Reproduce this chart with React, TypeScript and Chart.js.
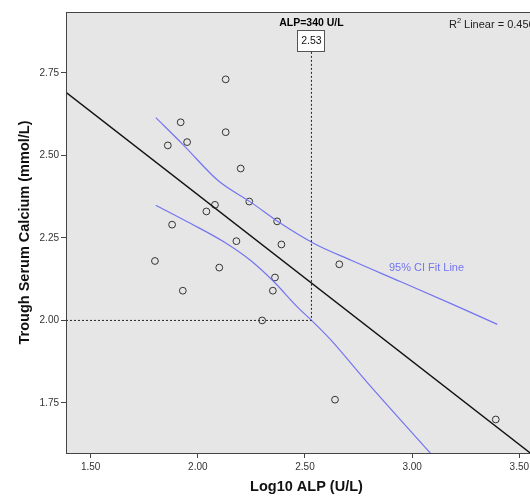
import React, { useEffect, useRef } from "react";
import { Chart, registerables } from "chart.js";

Chart.register(...registerables);

// Observed data: Log10 ALP (U/L) vs trough serum calcium (mmol/L)
const alpLog = [2.13, 1.92, 2.13, 1.86, 1.95, 2.20, 2.24, 2.08, 2.04, 2.37, 1.88, 2.18, 2.39, 1.80, 2.10, 2.36, 1.93, 2.35, 2.66, 2.30, 2.64, 3.39];
const calcium = [2.73, 2.60, 2.57, 2.53, 2.54, 2.46, 2.36, 2.35, 2.33, 2.30, 2.29, 2.24, 2.23, 2.18, 2.16, 2.13, 2.09, 2.09, 2.17, 2.00, 1.76, 1.70];

// Linear fit line (endpoints read at the plot edges)
const fitX = [1.385, 3.629];
const fitY = [2.691, 1.559];

// 95% CI of the fit (upper / lower curve)
const ciUpX = [1.804, 1.933, 2.097, 2.245, 2.386, 2.542, 2.715, 2.947, 3.181, 3.397];
const ciUpY = [2.614, 2.531, 2.422, 2.359, 2.294, 2.233, 2.182, 2.117, 2.051, 1.988];
const ciLoX = [1.804, 1.965, 2.121, 2.245, 2.355, 2.464, 2.534, 2.612, 2.792, 3.085];
const ciLoY = [2.349, 2.294, 2.238, 2.182, 2.117, 2.041, 1.998, 1.947, 1.811, 1.598];

// Reference guide (ALP = 340 U/L -> log10 = 2.53, calcium 2.00)
const guideX = [1.385, 2.53, 2.53];
const guideY = [2.0, 2.0, 2.816];

const xTicks = [1.5, 2.0, 2.5, 3.0, 3.5];
const yTicks = [1.75, 2.0, 2.25, 2.5, 2.75];

const X_MIN = 1.385, X_MAX = 3.629;
const Y_MIN = 1.5985, Y_MAX = 2.934;

const FONT = "'Liberation Sans', Arial, sans-serif";
const CI_COLOR = "#7474f2";

const pts = (xs: number[], ys: number[]) => xs.map((x, i) => ({ x, y: ys[i] }));

const framePlugin = {
  id: "frame",
  beforeDatasetsDraw(chart: any) {
    const { ctx, chartArea: a } = chart;
    ctx.save();
    ctx.fillStyle = "#e6e6e6";
    ctx.fillRect(a.left, a.top, a.right - a.left, a.bottom - a.top);
    ctx.restore();
  },
  afterDraw(chart: any) {
    const { ctx, chartArea: a, scales } = chart;
    ctx.save();
    ctx.strokeStyle = "#444";
    ctx.lineWidth = 1;
    ctx.strokeRect(a.left + 0.5, a.top + 0.5, a.right - a.left, a.bottom - a.top);

    const gx = scales.x.getPixelForValue(2.53);
    // ALP label
    ctx.fillStyle = "#000";
    ctx.font = `bold 10.5px ${FONT}`;
    ctx.textAlign = "center";
    ctx.textBaseline = "middle";
    ctx.fillText("ALP=340 U/L", gx, 23);
    // value box
    ctx.fillStyle = "#fff";
    ctx.fillRect(297, 30, 27, 21);
    ctx.strokeStyle = "#555";
    ctx.lineWidth = 1;
    ctx.strokeRect(297.5, 30.5, 27, 21);
    ctx.fillStyle = "#111";
    ctx.font = `10.5px ${FONT}`;
    ctx.fillText("2.53", gx, 41.5);

    // R² text
    ctx.textAlign = "left";
    ctx.fillStyle = "#222";
    ctx.font = `11px ${FONT}`;
    ctx.fillText("R", 449, 25);
    ctx.font = `7.5px ${FONT}`;
    ctx.fillText("2", 457, 20.5);
    ctx.font = `11px ${FONT}`;
    ctx.fillText(" Linear = 0.456", 461, 25);

    // CI label
    ctx.fillStyle = CI_COLOR;
    ctx.textAlign = "center";
    ctx.font = `11px ${FONT}`;
    ctx.fillText("95% CI Fit Line", 426.5, 268);
    ctx.restore();
  },
};

export default function App() {
  const ref = useRef<HTMLCanvasElement>(null);
  useEffect(() => {
    if (!ref.current) return;
    const chart = new Chart(ref.current, {
      type: "scatter",
      data: {
        datasets: [
          {
            label: "guide",
            data: pts(guideX, guideY),
            showLine: true,
            borderColor: "#222",
            borderWidth: 1,
            borderDash: [2, 2],
            pointRadius: 0,
            fill: false,
          },
          {
            label: "ciUp",
            data: pts(ciUpX, ciUpY),
            showLine: true,
            borderColor: CI_COLOR,
            borderWidth: 1.2,
            pointRadius: 0,
            cubicInterpolationMode: "monotone",
          },
          {
            label: "ciLo",
            data: pts(ciLoX, ciLoY),
            showLine: true,
            borderColor: CI_COLOR,
            borderWidth: 1.2,
            pointRadius: 0,
            cubicInterpolationMode: "monotone",
          },
          {
            label: "fit",
            data: pts(fitX, fitY),
            showLine: true,
            borderColor: "#111",
            borderWidth: 1.4,
            pointRadius: 0,
          },
          {
            label: "obs",
            data: pts(alpLog, calcium),
            pointRadius: 3.4,
            pointBorderWidth: 1,
            pointBorderColor: "#333",
            pointBackgroundColor: "rgba(0,0,0,0)",
          },
        ],
      },
      options: {
        animation: false,
        responsive: false,
        devicePixelRatio: 1,
        layout: { padding: { top: 12, right: 10, left: 0, bottom: 0 } },
        plugins: { legend: { display: false }, tooltip: { enabled: false } },
        scales: {
          x: {
            type: "linear",
            min: X_MIN,
            max: X_MAX,
            afterBuildTicks: (s: any) => {
              s.ticks = xTicks.map((v) => ({ value: v }));
            },
            afterFit: (s: any) => {
              s.height = 43;
            },
            ticks: {
              callback: (v: any) => Number(v).toFixed(2),
              font: { family: FONT, size: 10 },
              color: "#333",
              padding: 3,
              maxRotation: 0,
            },
            grid: { drawOnChartArea: false, tickLength: 5, color: "#444" },
            border: { color: "#444" },
            title: {
              display: true,
              text: "Log10 ALP (U/L)",
              font: { family: FONT, size: 14.5, weight: "bold" },
              color: "#111",
              padding: { top: 0, bottom: 0 },
            },
          },
          y: {
            type: "linear",
            min: Y_MIN,
            max: Y_MAX,
            afterBuildTicks: (s: any) => {
              s.ticks = yTicks.map((v) => ({ value: v }));
            },
            afterFit: (s: any) => {
              s.width = 66;
            },
            ticks: {
              callback: (v: any) => Number(v).toFixed(2),
              font: { family: FONT, size: 10 },
              color: "#333",
              padding: 2,
            },
            grid: { drawOnChartArea: false, tickLength: 5, color: "#444" },
            border: { color: "#444" },
            title: {
              display: true,
              text: "Trough Serum Calcium (mmol/L)",
              font: { family: FONT, size: 14.5, weight: "bold" },
              color: "#111",
              padding: { top: 16, bottom: 0 },
            },
          },
        },
      },
      plugins: [framePlugin],
    });
    return () => chart.destroy();
  }, []);
  return (
    <canvas
      ref={ref}
      width={557}
      height={496}
      style={{ position: "fixed", left: 0, top: 0, width: 557, height: 496, background: "#fff" }}
    />
  );
}
